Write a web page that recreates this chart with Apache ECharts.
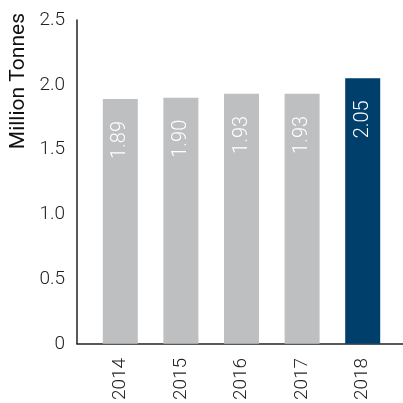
<!DOCTYPE html>
<html><head><meta charset="utf-8">
<script src="https://cdn.jsdelivr.net/npm/echarts@6/dist/echarts.min.js"></script>
<style>html,body{margin:0;padding:0;background:#fff}#c{width:403px;height:403px}</style>
</head><body><div id="c"></div>
<script>
const years = ['2014', '2015', '2016', '2017', '2018'];
const values = [1.89, 1.90, 1.93, 1.93, 2.05];
const yTicks = [0, 0.5, 1.0, 1.5, 2.0, 2.5];
const yTitle = 'Million Tonnes';

const gray = '#bebfc1', navy = '#003e6b';
const font = 'Roboto';
const chart = echarts.init(document.getElementById('c'), null, {renderer: 'canvas'});
chart.setOption({
  animation: false,
  grid: [
    {left: 90, right: 10, top: 20, bottom: 59},
    {left: 77, right: 0, top: 20, bottom: 59}
  ],
  xAxis: [
    {type: 'category', data: years, gridIndex: 0,
     axisLine: {show: false}, axisTick: {show: false},
     axisLabel: {rotate: 90, margin: 14, fontSize: 19, fontFamily: font, fontWeight: 300, color: '#222'}},
    {type: 'value', gridIndex: 1, min: 0, max: 1,
     axisLine: {show: true, lineStyle: {color: '#222', width: 1.5}},
     axisTick: {show: false}, axisLabel: {show: false}, splitLine: {show: false}}
  ],
  yAxis: [
    {type: 'value', gridIndex: 0, min: yTicks[0], max: yTicks[yTicks.length - 1], interval: 0.5, offset: 13,
     axisLine: {show: true, lineStyle: {color: '#222', width: 1.5}},
     axisTick: {show: false}, splitLine: {show: false},
     axisLabel: {margin: 12, fontSize: 19, fontFamily: font, fontWeight: 300, color: '#222',
       formatter: v => v === 0 ? '0' : v.toFixed(1)}},
    {type: 'value', gridIndex: 1, show: false}
  ],
  graphic: [{
    type: 'text', left: 8, top: 13, rotation: Math.PI / 2,
    style: {text: yTitle, fontSize: 21, fontFamily: font, fontWeight: 400, fill: '#111'}
  }],
  series: [{
    type: 'bar', xAxisIndex: 0, yAxisIndex: 0, barWidth: 35,
    data: values.map((v, i) => ({value: v, itemStyle: {color: i === values.length - 1 ? navy : gray}})),
    label: {show: true, position: 'insideTop', distance: 22, rotate: 90, align: 'right', verticalAlign: 'middle',
      fontSize: 20, fontFamily: font, fontWeight: 300, color: '#fff',
      formatter: p => p.value.toFixed(2)}
  }]
});
</script></body></html>
